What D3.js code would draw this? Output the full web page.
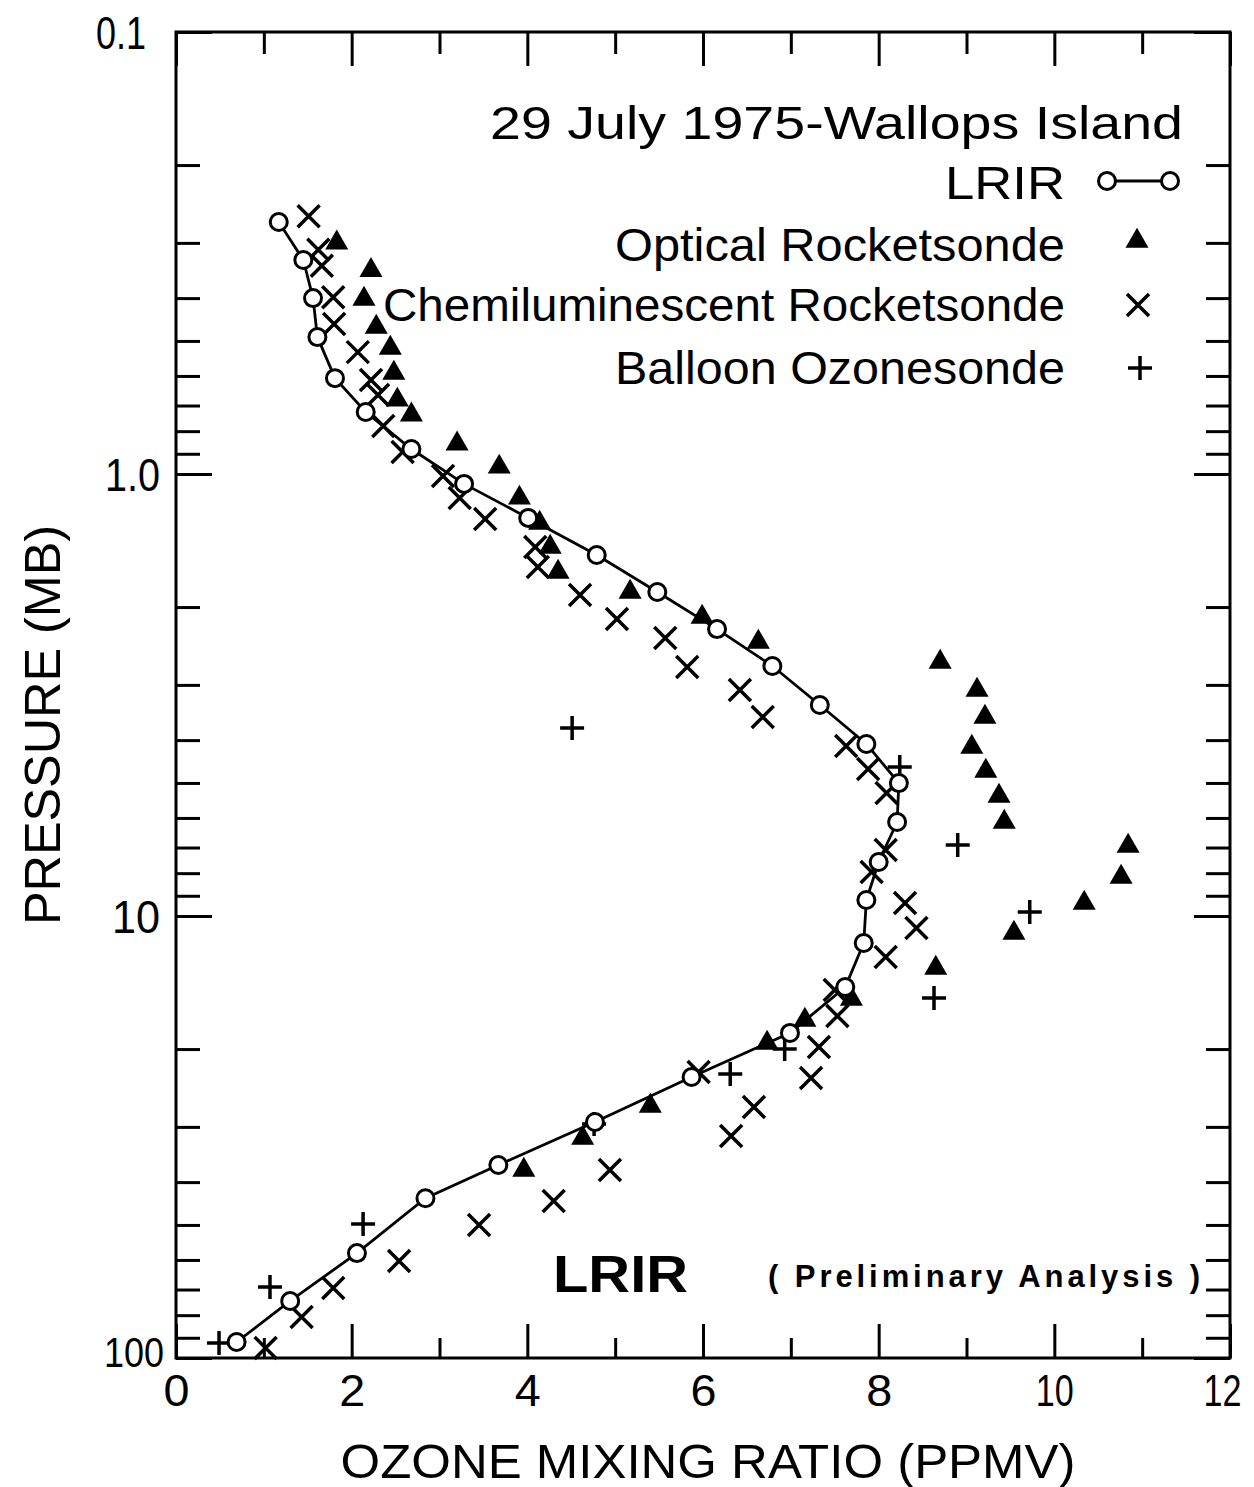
<!DOCTYPE html>
<html>
<head>
<meta charset="utf-8">
<script src="https://cdn.jsdelivr.net/npm/d3@7"></script>
<style>
  body { margin: 0; background: #fff; }
  text { font-family: "Liberation Sans", Arial, sans-serif; fill: #000; }
</style>
</head>
<body>
<script>
// ozone mixing ratio (ppmv), pressure (mb)
var lrir = [
  [1.17, 0.269], [1.45, 0.328], [1.56, 0.400], [1.61, 0.490], [1.81, 0.607],
  [2.16, 0.724], [2.68, 0.878], [3.28, 1.053], [4.01, 1.257], [4.79, 1.525],
  [5.48, 1.849], [6.16, 2.243], [6.79, 2.719], [7.33, 3.332], [7.86, 4.081],
  [8.23, 5.003], [8.21, 6.128], [8.00, 7.546], [7.86, 9.20], [7.83, 11.51],
  [7.62, 14.48], [6.99, 18.39], [5.87, 23.14], [4.77, 29.25], [3.67, 36.59],
  [2.84, 43.5], [2.06, 57.9], [1.30, 74.3], [0.69, 92.0]
];
var optical = [
  [1.83, 0.300], [2.22, 0.346], [2.14, 0.402], [2.28, 0.465], [2.44, 0.519],
  [2.48, 0.591], [2.52, 0.680], [2.68, 0.735], [3.20, 0.855], [3.68, 0.964],
  [3.91, 1.133], [4.14, 1.291], [4.26, 1.463], [4.35, 1.666], [5.17, 1.849],
  [5.99, 2.107], [6.63, 2.399], [8.70, 2.663], [9.12, 3.082], [9.21, 3.546],
  [9.06, 4.146], [9.22, 4.698], [9.37, 5.353], [9.43, 6.128], [10.84, 6.944],
  [10.76, 8.163], [10.34, 9.35], [9.54, 10.93], [8.65, 13.11], [7.69, 15.41],
  [7.16, 17.19], [6.73, 19.38], [5.40, 26.91], [4.63, 31.79], [3.96, 37.56]
];
var chemi = [
  [1.51, 0.261], [1.62, 0.311], [1.66, 0.338], [1.79, 0.398], [1.80, 0.458],
  [2.07, 0.530], [2.22, 0.613], [2.30, 0.663], [2.36, 0.779], [2.58, 0.892],
  [3.04, 1.010], [3.23, 1.133], [3.52, 1.264], [4.09, 1.463], [4.12, 1.623],
  [4.60, 1.879], [5.02, 2.129], [5.57, 2.350], [5.82, 2.733], [6.42, 3.082],
  [6.68, 3.546], [7.63, 4.125], [7.88, 4.650], [8.09, 5.270], [8.08, 7.09],
  [7.92, 7.95], [8.30, 9.35], [8.43, 10.64], [8.08, 12.38], [7.50, 14.71],
  [7.53, 16.84], [7.32, 19.79], [7.23, 23.26], [5.95, 22.54], [6.58, 27.05],
  [6.32, 31.46], [4.94, 37.56], [4.30, 44.14], [3.45, 50.02], [2.54, 60.34],
  [1.79, 69.42], [1.43, 80.78], [1.02, 94.9]
];
var balloon = [
  [4.51, 3.755], [8.24, 4.601], [8.90, 6.909], [9.72, 9.79], [8.63, 15.33],
  [6.93, 20.0], [6.31, 22.78], [4.76, 29.55], [2.13, 49.76], [1.07, 69.07],
  [0.49, 92.5]
];
var xTicksMajor = [0, 2, 4, 6, 8, 10, 12];
var xTicksMinor = [1, 3, 5, 7, 9, 11];
var yLabels = [[0.1, "0.1"], [1, "1.0"], [10, "10"], [100, "100"]];
var legendItems = ["LRIR", "Optical Rocketsonde", "Chemiluminescent Rocketsonde", "Balloon Ozonesonde"];

var width = 1254, height = 1487;
var x = d3.scaleLinear().domain([0, 12]).range([176, 1230]);
var y = d3.scaleLog().domain([0.1, 100]).range([32, 1358]);

var svg = d3.select("body").append("svg")
  .attr("width", width).attr("height", height);

// minor / major pressure ticks
var yMinor = [], yMajor = [0.1, 1, 10, 100];
[0.1, 1, 10].forEach(function(d) {
  for (var k = 2; k <= 9; k++) yMinor.push(d * k);
});

function tickStyle(g) {
  g.select(".domain").remove();
  g.selectAll("line").attr("stroke", "#000").attr("stroke-width", 3);
}

// left / right ticks
svg.append("g").attr("transform", "translate(" + x(0) + ",0)")
  .call(d3.axisLeft(y).tickValues(yMinor).tickSize(-24).tickFormat("")).call(tickStyle);
svg.append("g").attr("transform", "translate(" + x(0) + ",0)")
  .call(d3.axisLeft(y).tickValues(yMajor).tickSize(-36).tickFormat("")).call(tickStyle);
svg.append("g").attr("transform", "translate(" + x(12) + ",0)")
  .call(d3.axisRight(y).tickValues(yMinor).tickSize(-24).tickFormat("")).call(tickStyle);
svg.append("g").attr("transform", "translate(" + x(12) + ",0)")
  .call(d3.axisRight(y).tickValues(yMajor).tickSize(-36).tickFormat("")).call(tickStyle);

// top / bottom ticks
svg.append("g").attr("transform", "translate(0," + y(0.1) + ")")
  .call(d3.axisTop(x).tickValues(xTicksMinor).tickSize(-22).tickFormat("")).call(tickStyle);
svg.append("g").attr("transform", "translate(0," + y(0.1) + ")")
  .call(d3.axisTop(x).tickValues(xTicksMajor).tickSize(-34).tickFormat("")).call(tickStyle);
svg.append("g").attr("transform", "translate(0," + y(100) + ")")
  .call(d3.axisBottom(x).tickValues(xTicksMinor).tickSize(-20).tickFormat("")).call(tickStyle);
var xb = svg.append("g").attr("transform", "translate(0," + y(100) + ")")
  .call(d3.axisBottom(x).tickValues(xTicksMajor).tickSize(-34).tickPadding(17).tickFormat(d3.format("d")))
  .call(tickStyle);
xb.selectAll("text")
  .attr("font-size", 44).attr("font-family", "Liberation Sans, Arial, sans-serif")
  .attr("x", function(d) { return d === 12 ? -8 : 0; })
  .attr("textLength", function(d) { return d >= 10 ? 38 : 26; })
  .attr("lengthAdjust", "spacingAndGlyphs");

// frame
svg.append("rect")
  .attr("x", x(0)).attr("y", y(0.1))
  .attr("width", x(12) - x(0)).attr("height", y(100) - y(0.1))
  .attr("fill", "none").attr("stroke", "#000").attr("stroke-width", 3);

// y labels
var yLabW = { "0.1": 50, "1.0": 55, "10": 48, "100": 60 };
svg.selectAll(".ylab").data(yLabels).enter().append("text")
  .attr("class", "ylab")
  .attr("x", function(d) { return d[0] === 100 ? 164 : (d[0] === 0.1 ? 146 : 160); })
  .attr("y", function(d) { return y(d[0]) - (d[0] === 100 ? 6 : 0); })
  .attr("dy", "0.36em")
  .attr("text-anchor", "end")
  .attr("font-size", function(d) { return d[0] === 100 ? 42 : 46; })
  .attr("textLength", function(d) { return yLabW[d[1]]; })
  .attr("lengthAdjust", "spacingAndGlyphs")
  .text(function(d) { return d[1]; });

// axis titles
svg.append("text")
  .attr("x", 708).attr("y", 1478)
  .attr("text-anchor", "middle").attr("font-size", 48)
  .attr("textLength", 735).attr("lengthAdjust", "spacingAndGlyphs")
  .text("OZONE  MIXING RATIO (PPMV)");
svg.append("text")
  .attr("transform", "translate(60,725) rotate(-90)")
  .attr("text-anchor", "middle").attr("font-size", 50)
  .attr("textLength", 400).attr("lengthAdjust", "spacingAndGlyphs")
  .text("PRESSURE (MB)");

// marker shapes
function drawCross(g, cx, cy, r) {
  g.append("path")
    .attr("d", "M" + (cx - r) + "," + (cy - r) + "L" + (cx + r) + "," + (cy + r) +
               "M" + (cx - r) + "," + (cy + r) + "L" + (cx + r) + "," + (cy - r))
    .attr("stroke", "#000").attr("stroke-width", 3.5).attr("fill", "none");
}
function drawPlus(g, cx, cy, r) {
  g.append("path")
    .attr("d", "M" + (cx - r) + "," + cy + "L" + (cx + r) + "," + cy +
               "M" + cx + "," + (cy - r) + "L" + cx + "," + (cy + r))
    .attr("stroke", "#000").attr("stroke-width", 3.5).attr("fill", "none");
}
var tri = d3.symbol().type(d3.symbolTriangle).size(230);

// data marks
var marks = svg.append("g");
chemi.forEach(function(d) { drawCross(marks, x(d[0]), y(d[1]), 11); });
balloon.forEach(function(d) { drawPlus(marks, x(d[0]), y(d[1]), 12); });
marks.selectAll(".tri").data(optical).enter().append("path")
  .attr("class", "tri")
  .attr("transform", function(d) { return "translate(" + x(d[0]) + "," + y(d[1]) + ")"; })
  .attr("d", tri).attr("fill", "#000");

var line = d3.line().x(function(d) { return x(d[0]); }).y(function(d) { return y(d[1]); });
marks.append("path").datum(lrir)
  .attr("d", line).attr("fill", "none").attr("stroke", "#000").attr("stroke-width", 2.8);
marks.selectAll(".lrir").data(lrir).enter().append("circle")
  .attr("class", "lrir")
  .attr("cx", function(d) { return x(d[0]); })
  .attr("cy", function(d) { return y(d[1]); })
  .attr("r", 8.5).attr("fill", "#fff").attr("stroke", "#000").attr("stroke-width", 3);

// legend
svg.append("text").attr("x", 1183).attr("y", 139).attr("text-anchor", "end")
  .attr("font-size", 46).attr("textLength", 693).attr("lengthAdjust", "spacingAndGlyphs")
  .text("29 July 1975-Wallops Island");
var legY = [199, 261, 321, 384];
var legW = [120, 450, 682, 450];
legendItems.forEach(function(t, i) {
  svg.append("text").attr("x", 1065).attr("y", legY[i]).attr("text-anchor", "end")
    .attr("font-size", 46).attr("textLength", legW[i]).attr("lengthAdjust", "spacingAndGlyphs")
    .text(t);
});
var lg = svg.append("g");
lg.append("line").attr("x1", 1107).attr("x2", 1170).attr("y1", 181).attr("y2", 181)
  .attr("stroke", "#000").attr("stroke-width", 2.8);
[1107, 1170].forEach(function(cx) {
  lg.append("circle").attr("cx", cx).attr("cy", 181).attr("r", 8.5)
    .attr("fill", "#fff").attr("stroke", "#000").attr("stroke-width", 3);
});
lg.append("path").attr("transform", "translate(1137,241)").attr("d", tri).attr("fill", "#000");
drawCross(lg, 1138, 305, 11);
drawPlus(lg, 1140, 368, 12);

// annotation
svg.append("text").attr("x", 553).attr("y", 1292)
  .attr("font-size", 52).attr("font-weight", "bold")
  .attr("textLength", 135).attr("lengthAdjust", "spacingAndGlyphs")
  .text("LRIR");
svg.append("text").attr("x", 768).attr("y", 1287)
  .attr("font-size", 31).attr("font-weight", "bold")
  .attr("textLength", 432).attr("lengthAdjust", "spacing")
  .text("( Preliminary  Analysis )");
</script>
</body>
</html>
